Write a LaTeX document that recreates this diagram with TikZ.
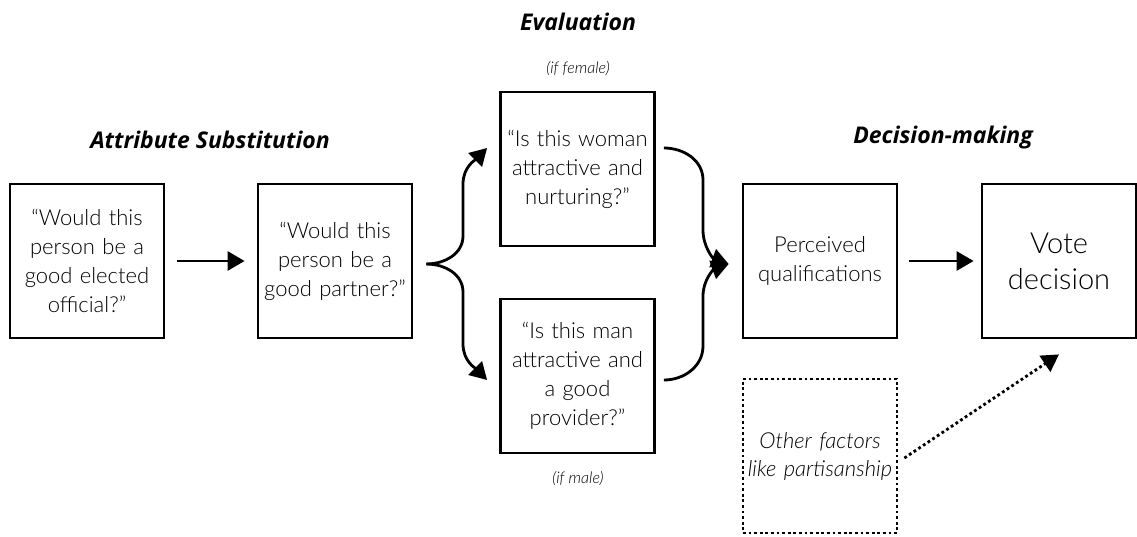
\documentclass[tikz,border=0pt]{standalone}
\usepackage{fontspec}
\IfFontExistsTF{Lato Light}{\setmainfont{Lato Light}[BoldFont=Lato Black,ItalicFont=Lato Light Italic,BoldItalicFont=Lato Black Italic]}{\setmainfont{Lato}}
\newfontfamily\headfont{Open Sans}
\usepackage{tikz}
\usetikzlibrary{arrows.meta}

\tikzset{
  qbox/.style={draw, line width=2.8pt, minimum width=154pt, minimum height=154pt,
    text width=152pt, align=center, inner sep=0pt, font=\fontsize{22}{29}\selectfont},
  otherbox/.style={qbox, dash pattern=on 2.8pt off 2.8pt, font=\fontsize{22}{28}\selectfont\itshape},
  arrow/.style={line width=2.8pt, -{Triangle[length=17pt,width=19pt]}},
  heading/.style={font=\headfont\fontsize{23}{27}\selectfont\bfseries\itshape},
  cond/.style={font=\fontsize{16}{18}\selectfont\itshape}
}

\begin{document}
\begin{tikzpicture}[x=1pt,y=1pt]
\useasboundingbox (0,0) rectangle (1137,536);

% headings
\node[heading] (attr) at (210,396) {Attribute Substitution};
\node[heading] (eval) at (578,514) {Evaluation};
\node[heading] (dec) at (943,398) {Decision-making};

% boxes
\node[qbox] (official) at (87,275) {``Would this\\person be a\\good elected\\official?''};
\node[qbox] (partner) at (335,275) {``Would this\\person be a\\good partner?''};
\node[qbox] (woman) at (577.5,367) {``Is this woman\\attractive and\\nurturing?''};
\node[qbox] (man) at (577.5,160) {``Is this man\\attractive and\\a good\\provider?''};
\node[qbox] (qualif) at (820,275) {Perceived\\qualifications};
\node[qbox, font=\fontsize{29}{36}\selectfont] (vote) at (1059,275) {Vote\\decision};
\node[otherbox] (other) at (820,80) {Other factors\\like partisanship};

% conditions
\node[cond] (female) at (578,468) {(if female)};
\node[cond] (male) at (578,58) {(if male)};

% straight arrows
\draw[arrow, shorten <=12pt, shorten >=12pt] (official) -- (partner);
\draw[arrow, shorten <=11pt, shorten >=7pt] (qualif) -- (vote);

% split
\coordinate (split) at ([xshift=13pt,yshift=-3pt]partner.east);
\draw[arrow] (split) to[out=0,in=-90] (463,300) -- (463,352)
  to[out=90,in=225] ([xshift=-12pt,yshift=21pt]woman.west);
\draw[arrow] (split) to[out=0,in=90] (463,244) -- (463,192)
  to[out=-90,in=135] ([xshift=-12pt,yshift=-4pt]man.west);

% merge
\coordinate (merge) at ([xshift=-13pt,yshift=-3pt]qualif.west);
\draw[arrow] ([xshift=8pt,yshift=21pt]woman.east) to[out=0,in=90] (703,356) -- (703,306)
  to[out=-90,in=160] (merge);
\draw[arrow] ([xshift=8pt,yshift=-4pt]man.east) to[out=0,in=-90] (703,190) -- (703,240)
  to[out=90,in=200] (merge);

% other factors
\draw[arrow, dash pattern=on 2.8pt off 2.8pt] ([xshift=6pt,yshift=-2pt]other.east) -- ([yshift=-15pt]vote.south);

\end{tikzpicture}
\end{document}
